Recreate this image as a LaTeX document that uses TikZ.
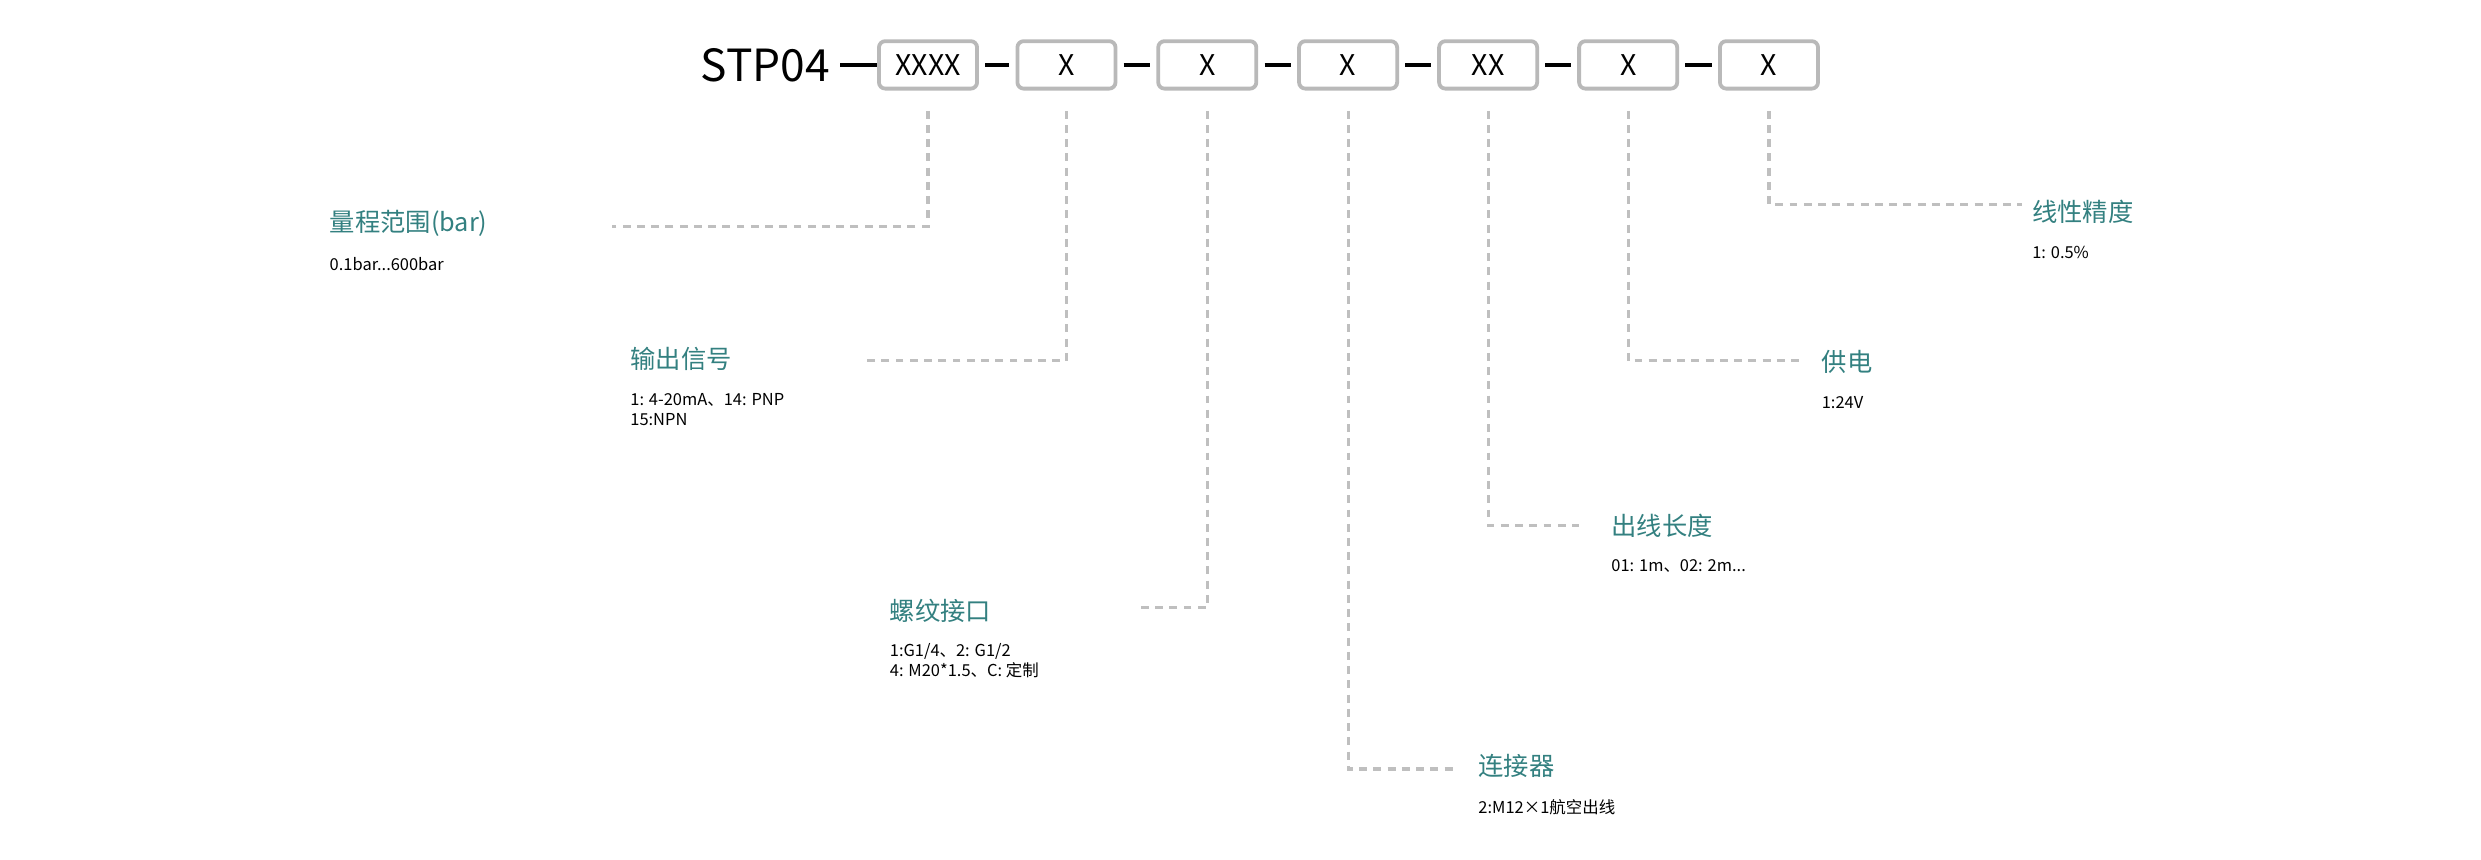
\documentclass[tikz,border=0pt]{standalone}
\usepackage{fontspec}
\setmainfont{Noto Sans CJK SC}
\begin{document}
\begin{tikzpicture}[x=0.5pt,y=-0.5pt,
  codebox/.style={draw=gray!55,line width=1.2pt,rounded corners=2pt,minimum width=31pt,minimum height=15pt,inner sep=0pt,font=\fontsize{9}{9}\selectfont},
  sep/.style={line width=1.3pt,black},
  lead/.style={draw=gray!50,line width=1pt,dash pattern=on 2.5pt off 2pt},
  ttl/.style={anchor=west,inner sep=0pt,text=teal!60!gray,font=\fontsize{8}{8}\selectfont},
  sub/.style={anchor=north west,inner sep=0pt,align=left,font=\fontsize{5.2}{6.4}\selectfont}]
\useasboundingbox (0,0) rectangle (1568,543);
\node[anchor=east,inner sep=0pt,font=\fontsize{14}{14}\selectfont] (stp) at (525,41) {STP04};
\foreach \n/\x/\t in {1/586.5/XXXX,2/674/X,3/763/X,4/852/X,5/940.5/XX,6/1029/X,7/1118/X}{
  \node[codebox] (b\n) at (\x,41) {\t};
}
\draw[sep] (531,41) -- (b1.west);
\foreach \a/\b in {1/2,2/3,3/4,4/5,5/6,6/7}{
  \draw[sep] ([xshift=2pt]b\a.east) -- ([xshift=-2pt]b\b.west);
}
\foreach \n/\y/\ex in {1/143/387,2/228/546,3/384/720,4/486/918,5/332/998,6/228/1138,7/129/1278}{
  \coordinate (t\n) at (b\n.center |- 0,70);
  \coordinate (c\n) at (b\n.center |- 0,\y);
  \coordinate (e\n) at (\ex,\y);
  \draw[lead] (t\n) -- (c\n) -- (e\n);
}
\node[ttl] (l1) at (208,141) {量程范围(bar)};
\node[sub] (s1) at (208,162) {0.1bar...600bar};
\node[ttl] (l2) at (398,227) {输出信号};
\node[sub] (s2) at (398,248) {1: 4-20mA、14: PNP\\15:NPN};
\node[ttl] (l3) at (562,386) {螺纹接口};
\node[sub] (s3) at (562,406) {1:G1/4、2: G1/2\\4: M20*1.5、C: 定制};
\node[ttl] (l4) at (934,484) {连接器};
\node[sub] (s4) at (934,505) {2:M12×1航空出线};
\node[ttl] (l5) at (1018,332) {出线长度};
\node[sub] (s5) at (1018,353) {01: 1m、02: 2m...};
\node[ttl] (l6) at (1151,229) {供电};
\node[sub] (s6) at (1151,250) {1:24V};
\node[ttl] (l7) at (1284,134) {线性精度};
\node[sub] (s7) at (1284,155) {1: 0.5\%};
\end{tikzpicture}
\end{document}
